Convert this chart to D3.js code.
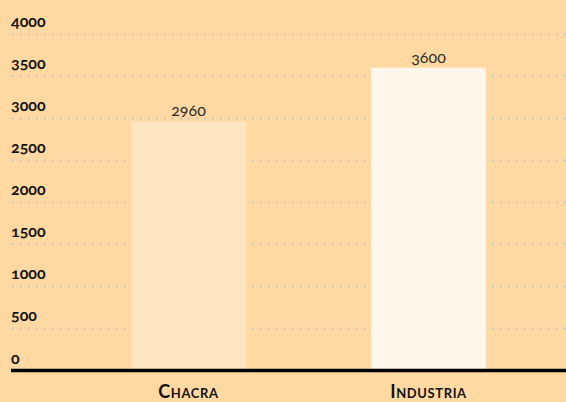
<!DOCTYPE html>
<html>
<head>
<meta charset="utf-8">
<script src="https://cdn.jsdelivr.net/npm/d3@7"></script>
<style>
    body { margin: 0; background: #ffd9a1; }
    svg { display: block; font-family: Lato, "Open Sans", sans-serif; }
    .tick-label { font-weight: 700; font-size: 16px; fill: #111; font-variant-numeric: oldstyle-nums; }
    .cat-label { font-weight: 700; font-size: 18px; fill: #111; font-variant: small-caps; letter-spacing: 0.6px; }
    .val-label { font-size: 16px; fill: #2a2a2a; font-weight: 400; font-variant-numeric: oldstyle-nums; }
</style>
</head>
<body>
<div id="chart"></div>
<script>
(function() {
    var categories = ['Chacra', 'Industria'];
    var values = [2960, 3600];
    var barColors = ['#ffe6c3', '#fff6ec'];
    var yTicks = [0, 500, 1000, 1500, 2000, 2500, 3000, 3500, 4000];

    var width = 566, height = 402;
    var left = 11, zeroY = 370.5, topY = 34;

    var svg = d3.select('#chart').append('svg')
        .attr('width', width)
        .attr('height', height);

    var x = d3.scaleBand()
        .domain(categories)
        .range([68.5, 548.5])
        .paddingInner(0.52)
        .paddingOuter(0.26);

    var y = d3.scaleLinear()
        .domain([0, 4000])
        .range([zeroY, topY]);

    // dotted gridlines
    svg.append('g').selectAll('line')
        .data(yTicks.filter(function(d) { return d > 0; }))
        .enter().append('line')
        .attr('x1', left + 1)
        .attr('x2', width)
        .attr('y1', function(d) { return Math.round(y(d)) + 0.5; })
        .attr('y2', function(d) { return Math.round(y(d)) + 0.5; })
        .style('stroke', '#c9c6c0')
        .style('stroke-width', 2)
        .style('stroke-dasharray', '2,6');

    // tick labels sit above their gridline
    svg.append('g').selectAll('text')
        .data(yTicks)
        .enter().append('text')
        .attr('class', 'tick-label')
        .attr('x', left)
        .attr('y', function(d) { return y(d) - 7; })
        .text(function(d) { return d; });

    // bars
    svg.append('g').selectAll('rect')
        .data(values)
        .enter().append('rect')
        .attr('x', function(d, i) { return x(categories[i]); })
        .attr('width', x.bandwidth())
        .attr('y', function(d) { return y(d); })
        .attr('height', function(d) { return y(0) - y(d); })
        .style('fill', function(d, i) { return barColors[i]; });

    // value labels
    svg.append('g').selectAll('text')
        .data(values)
        .enter().append('text')
        .attr('class', 'val-label')
        .attr('text-anchor', 'middle')
        .attr('x', function(d, i) { return x(categories[i]) + x.bandwidth() / 2; })
        .attr('y', function(d) { return y(d) - 5; })
        .text(function(d) { return d; });

    // baseline
    svg.append('line')
        .attr('x1', left)
        .attr('x2', width)
        .attr('y1', zeroY)
        .attr('y2', zeroY)
        .style('stroke', '#000')
        .style('stroke-width', 3.5);

    // category labels
    svg.append('g').selectAll('text')
        .data(categories)
        .enter().append('text')
        .attr('class', 'cat-label')
        .attr('text-anchor', 'middle')
        .attr('x', function(d) { return x(d) + x.bandwidth() / 2; })
        .attr('y', 398)
        .text(function(d) { return d; });
})();
</script>
</body>
</html>
